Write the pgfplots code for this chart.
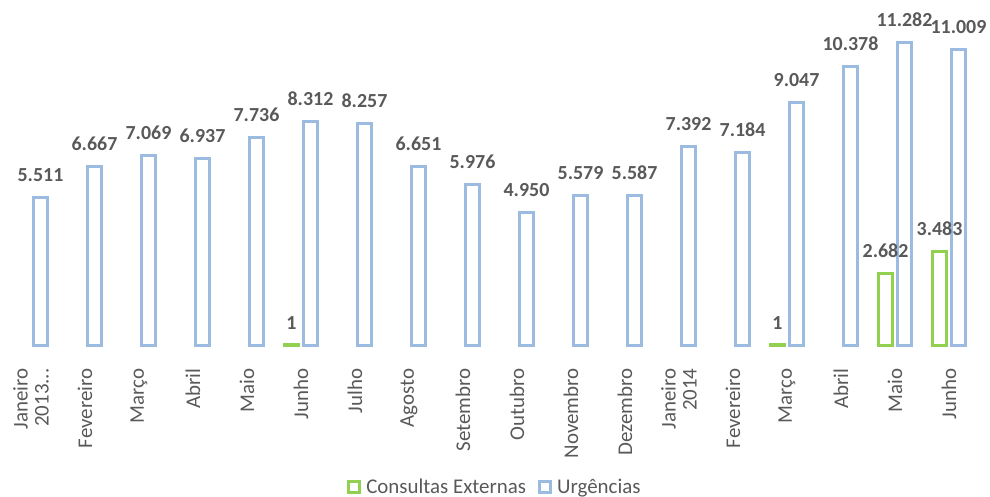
\documentclass[border=0pt]{standalone}
\usepackage{fontspec}
\setmainfont{Carlito}
\usepackage{pgfplots}
\pgfplotsset{compat=1.18}
\definecolor{urgblue}{RGB}{155,187,225}
\definecolor{consgreen}{RGB}{146,208,80}
\definecolor{txtgray}{RGB}{89,89,89}
\begin{document}
\begin{tikzpicture}
\begin{axis}[
  scale only axis, width=972bp, height=322bp,
  ybar=5bp, bar width=14bp,
  xmin=-0.5, xmax=17.5, ymin=0, ymax=12000,
  axis x line=bottom, axis y line=none,
  axis line style={draw=none},
  xtick={0,1,2,3,4,5,6,7,8,9,10,11,12,13,14,15,16,17}, major tick length=0pt,
  xticklabels={{Janeiro\\2013{.}{.}{.}},Fevereiro,Março,Abril,Maio,Junho,Julho,Agosto,Setembro,Outubro,Novembro,Dezembro,{Janeiro\\2014},Fevereiro,Março,Abril,Maio,Junho},
  xticklabel style={yshift=-20bp, rotate=90, anchor=east, align=right,
    font=\fontsize{21}{21}\selectfont, text=txtgray},
  ytick=\empty,
  clip=false,
  nodes near coords={\pgfmathprintnumber[assume math mode=true, 1000 sep={.}]{\pgfplotspointmeta}},
  every node near coord/.append style={font=\bfseries\fontsize{20}{24}\selectfont, text=txtgray, yshift=11bp},
  legend style={at={(0.505,-0.441)}, anchor=center, draw=none, fill=none,
    legend columns=-1, font=\fontsize{21}{24}\selectfont, text=txtgray,
    /tikz/every odd column/.append style={column sep=3bp},
    /tikz/every even column/.append style={column sep=10bp}},
  legend image code/.code={\draw[#1, line width=3bp] (0bp,-5.5bp) rectangle (11bp,5.5bp);},
]
\addplot[draw=consgreen, fill=white, line width=3bp] coordinates
  {(5,1) (14,1) (16,2682) (17,3483)};
\addlegendentry{Consultas Externas}
\addplot[draw=urgblue, fill=white, line width=3bp] coordinates
  {(0,5511) (1,6667) (2,7069) (3,6937) (4,7736) (5,8312) (6,8257) (7,6651) (8,5976)
   (9,4950) (10,5579) (11,5587) (12,7392) (13,7184) (14,9047) (15,10378) (16,11282) (17,11009)};
\addlegendentry{Urgências}
\coordinate (o) at (axis cs:-0.5,0);
\coordinate (e) at (axis cs:17.5,0);
\end{axis}
\pgfresetboundingbox
\path ([xshift=-4bp,yshift=-152bp]o) rectangle ([xshift=14bp,yshift=345bp]e);
\end{tikzpicture}
\end{document}
